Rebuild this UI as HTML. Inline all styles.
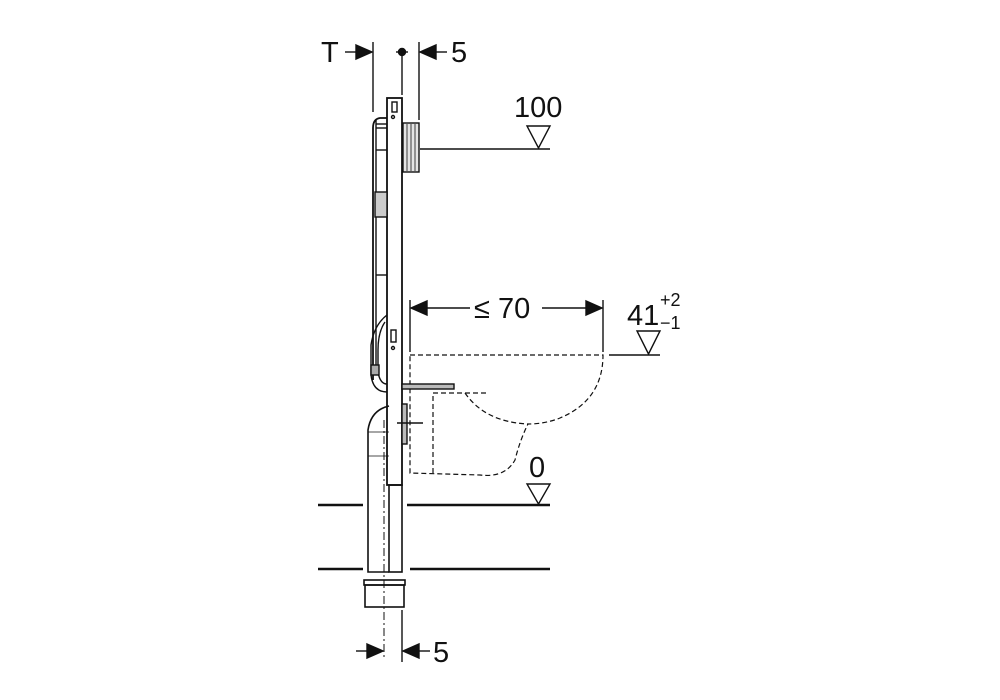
<!DOCTYPE html>
<html><head><style>
html,body{margin:0;padding:0;background:#fff;}
svg{display:block;}
text{font-family:"Liberation Sans",Arial,sans-serif;fill:#111;}
</style></head><body>
<svg width="1000" height="700" viewBox="0 0 1000 700" xmlns="http://www.w3.org/2000/svg">
<g stroke="#111" fill="none" stroke-width="1.4">
<!-- top dims -->
<line x1="345" y1="52" x2="356" y2="52"/>
<polygon points="356,45 372,52 356,59" fill="#111"/>
<line x1="373" y1="42" x2="373" y2="112"/>
<circle cx="402" cy="52" r="3.5" fill="#111"/>
<line x1="396" y1="52" x2="408" y2="52"/>
<line x1="402" y1="52" x2="402" y2="95"/>
<line x1="419" y1="42" x2="419" y2="120"/>
<polygon points="420,52 436,45 436,59" fill="#111"/>
<line x1="436" y1="52" x2="447" y2="52"/>

<!-- frame -->
<rect x="387" y="98" width="15" height="387" stroke-width="1.8"/>
<rect x="389" y="485" width="13" height="87" stroke-width="1.6"/>
<rect x="392" y="102" width="5" height="10"/>
<circle cx="393" cy="117" r="1.5"/>
<rect x="391" y="330" width="5" height="12"/>
<circle cx="393" cy="348" r="1.5"/>
<!-- cistern -->
<path d="M387,118 L380,118 Q373,119 373,128 L373,380" stroke-width="1.8"/>
<line x1="376" y1="120" x2="376" y2="375"/>
<line x1="376" y1="124" x2="387" y2="124"/>
<line x1="376" y1="128" x2="387" y2="128"/>
<line x1="376" y1="150" x2="387" y2="150"/>
<rect x="375" y="192" width="12" height="25" fill="#ccc"/>
<line x1="376" y1="275" x2="387" y2="275"/>
<!-- flush pipe -->
<path d="M387,315 Q374,325 371,345 L371,375 Q373,392 387,392" />
<path d="M385,322 Q378,332 378,350 L378,372 Q380,384 387,384"/>
<rect x="371" y="365" width="8" height="10" fill="#aaa"/>
<!-- flush plate -->
<rect x="403" y="123" width="16" height="49" fill="#e4e4e4"/>
<line x1="407" y1="124" x2="407" y2="171" stroke-width="0.8"/><line x1="411" y1="124" x2="411" y2="171" stroke-width="0.8"/><line x1="415" y1="124" x2="415" y2="171" stroke-width="0.8"/>
<line x1="420" y1="149" x2="550" y2="149"/>
<polygon points="527,126 550,126 538.5,148" fill="#fff"/>
<!-- 70 dim -->
<line x1="410" y1="300" x2="410" y2="352"/>
<line x1="603" y1="300" x2="603" y2="352"/>
<polygon points="411,308 427,301 427,315" fill="#111"/>
<polygon points="602,308 586,301 586,315" fill="#111"/>
<line x1="427" y1="308" x2="470" y2="308"/>
<line x1="542" y1="308" x2="586" y2="308"/>
<!-- 41 -->
<line x1="609" y1="355" x2="660" y2="355"/>
<polygon points="637,331 660,331 648.5,354" fill="#fff"/>
<!-- bowl dashed -->
<g stroke-dasharray="5,3" stroke-width="1.2">
<path d="M410,355 L603,355 Q603,400 560,418 Q545,424 528,424 Q520,440 515,460 Q505,478 480,475 L410,473 L410,355"/>
<path d="M465,393 Q485,422 528,424"/>
<path d="M433,473 L433,393 L488,393"/>
</g>
<!-- bolt -->
<rect x="402" y="384" width="52" height="5" fill="#bbb"/>
<!-- bracket & centre lines -->
<rect x="402" y="404" width="5" height="40" fill="#bbb"/>
<line x1="397" y1="423" x2="423" y2="423"/>
<!-- drain pipe -->
<path d="M389,406 Q371,410 368,430 L368,572 L389,572" stroke-width="1.6"/>
<line x1="368" y1="432" x2="389" y2="432" stroke-width="0.8"/>
<line x1="368" y1="456" x2="389" y2="456" stroke-width="0.8"/>
<line x1="384" y1="420" x2="384" y2="660" stroke-dasharray="8,3,2,3" stroke-width="1"/>
<rect x="364" y="580" width="41" height="5" stroke-width="1.6"/>
<rect x="365" y="585" width="39" height="22" stroke-width="1.6"/>
<!-- floor lines -->
<g stroke-width="2.6">
<line x1="318" y1="505" x2="363" y2="505"/><line x1="407" y1="505" x2="550" y2="505"/>
<line x1="318" y1="569" x2="363" y2="569"/><line x1="410" y1="569" x2="550" y2="569"/>
</g>
<polygon points="527,484 550,484 538.5,504" fill="#fff" stroke-width="1.4"/>
<!-- bottom dim -->
<line x1="402" y1="610" x2="402" y2="662"/>
<line x1="356" y1="651" x2="367" y2="651"/>
<polygon points="367,644 383,651 367,658" fill="#111"/>
<polygon points="403,651 419,644 419,658" fill="#111"/>
<line x1="419" y1="651" x2="430" y2="651"/>
</g>
<text x="321" y="62" font-size="29">T</text>
<text x="451" y="62" font-size="29">5</text>
<text x="514" y="117" font-size="29">100</text>
<text x="474" y="318" font-size="29">≤ 70</text>
<text x="627" y="325" font-size="29">41</text>
<text x="660" y="306" font-size="18">+2</text>
<text x="660" y="329" font-size="18">−1</text>
<text x="529" y="477" font-size="29">0</text>
<text x="433" y="662" font-size="29">5</text>
</svg>
</body></html>
